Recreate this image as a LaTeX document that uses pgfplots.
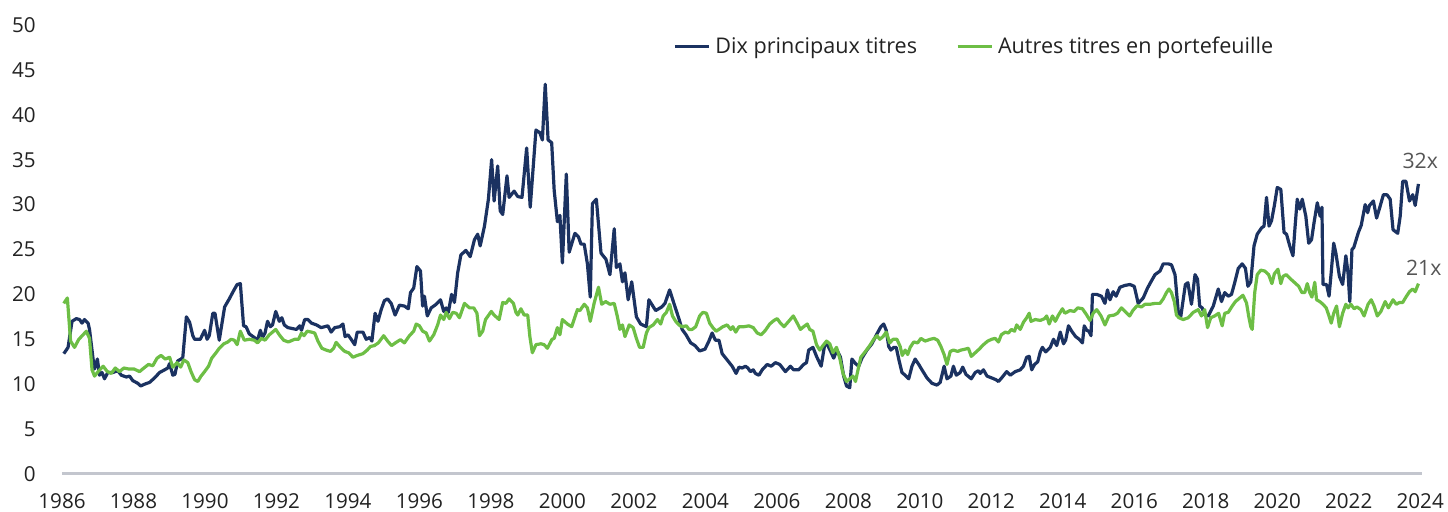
\documentclass[border=0pt]{standalone}
\usepackage{pgfplots}
\pgfplotsset{compat=1.18}
\usepackage{fontspec}
\setmainfont{Open Sans}
\definecolor{navy}{HTML}{1B3261}
\definecolor{lgreen}{HTML}{6DBE45}
\definecolor{axisgray}{HTML}{C3C6CE}
\definecolor{txt}{HTML}{222222}
\definecolor{lbl}{HTML}{555555}
\begin{document}
\begin{tikzpicture}[font=\fontsize{10.3}{12}\selectfont]
\begin{axis}[
  at={(0,0)}, anchor=south west,
  scale only axis, width=680pt, height=224.5pt,
  xmin=1986, xmax=2024.05, ymin=0, ymax=50,
  axis x line*=bottom, axis y line*=left,
  x axis line style={axisgray, line width=1.5pt, -},
  y axis line style={draw=none},
  xtick={1986,1988,...,2024}, ytick={0,5,...,50},
  major tick length=0pt, tick style={draw=none},
  /pgf/number format/1000 sep={},
  /pgf/number format/assume math mode=true,
  xticklabel style={inner sep=0pt, anchor=north, yshift=-9.5pt, text=txt},
  yticklabel style={inner sep=0pt, anchor=east, xshift=-13pt, text=txt},
  clip=false,
  legend style={at={(0.4493,0.951)}, anchor=west, draw=none, fill=none,
    inner sep=0pt, nodes={inner sep=2.5pt, text=txt, font=\fontsize{10.8}{12}\selectfont},
    /tikz/every even column/.append style={column sep=17pt}},
  legend columns=2, legend cell align=left,
  legend image code/.code={\draw[#1, line width=1.5pt] (0pt,0pt) -- (17pt,0pt);},
]
\addplot[navy, line width=1.6pt, line join=round] coordinates {
(1986.05,13.4)(1986.12,13.8)(1986.17,14.1)(1986.28,17.0)(1986.40,17.3)(1986.49,17.2)(1986.56,16.8)(1986.63,17.2)(1986.73,16.8)(1986.77,16.1)
(1986.87,12.8)(1986.91,11.7)(1986.99,12.8)(1987.05,11.0)(1987.12,11.3)(1987.19,10.6)(1987.28,11.3)(1987.42,11.3)(1987.56,11.5)(1987.66,11.0)
(1987.80,10.8)(1987.89,10.9)(1987.98,10.4)(1988.12,10.1)(1988.20,9.8)(1988.31,10.0)(1988.45,10.2)(1988.59,10.7)(1988.73,11.3)(1988.87,11.6)
(1988.96,11.8)(1989.01,12.3)(1989.10,11.0)(1989.16,11.1)(1989.24,12.6)(1989.33,12.8)(1989.38,13.0)(1989.48,17.5)(1989.57,16.9)(1989.66,15.4)
(1989.71,15.0)(1989.80,15.0)(1989.87,15.0)(1989.99,16.0)(1990.06,15.0)(1990.12,15.4)(1990.22,17.9)(1990.28,17.9)(1990.40,14.9)(1990.55,18.6)
(1990.68,19.5)(1990.80,20.4)(1990.90,21.1)(1990.99,21.2)(1991.08,16.5)(1991.15,16.4)(1991.24,15.6)(1991.38,15.2)(1991.47,14.9)(1991.55,16.0)
(1991.61,15.2)(1991.68,15.7)(1991.75,17.0)(1991.83,16.4)(1991.89,16.6)(1991.98,18.1)(1992.08,17.0)(1992.15,17.4)(1992.22,16.6)(1992.32,16.3)
(1992.56,16.1)(1992.65,16.5)(1992.70,16.0)(1992.79,17.2)(1992.88,17.2)(1992.98,16.8)(1993.12,16.6)(1993.25,16.3)(1993.44,16.5)(1993.53,15.8)
(1993.63,16.3)(1993.77,16.4)(1993.86,16.7)(1993.92,15.3)(1994.00,15.5)(1994.09,15.0)(1994.19,14.4)(1994.26,15.8)(1994.42,15.8)(1994.51,15.0)
(1994.61,15.2)(1994.67,14.8)(1994.76,17.9)(1994.84,17.0)(1994.93,18.3)(1995.02,19.3)(1995.11,19.5)(1995.21,19.0)(1995.32,17.7)(1995.44,18.8)
(1995.58,18.7)(1995.69,18.4)(1995.75,20.2)(1995.84,20.7)(1995.93,23.1)(1996.03,22.6)(1996.09,18.7)(1996.14,19.8)(1996.22,17.6)(1996.33,18.5)
(1996.47,18.9)(1996.59,19.4)(1996.68,18.1)(1996.75,18.5)(1996.81,18.0)(1996.90,20.0)(1996.98,19.1)(1997.07,22.4)(1997.16,24.4)(1997.30,24.9)
(1997.42,24.2)(1997.54,26.1)(1997.63,26.7)(1997.70,25.4)(1997.82,27.6)(1997.93,30.6)(1998.02,35.0)(1998.09,30.4)(1998.19,34.3)(1998.26,29.3)
(1998.33,28.9)(1998.45,33.2)(1998.51,30.8)(1998.65,31.5)(1998.75,30.9)(1998.87,30.8)(1999.00,36.3)(1999.10,29.7)(1999.26,38.3)(1999.37,38.0)
(1999.44,37.2)(1999.52,43.4)(1999.60,37.2)(1999.70,36.9)(1999.77,31.6)(1999.86,28.1)(1999.93,28.8)(2000.00,23.5)(2000.11,33.4)(2000.19,24.7)
(2000.35,26.8)(2000.45,26.4)(2000.52,25.6)(2000.61,25.6)(2000.70,23.4)(2000.78,19.7)(2000.84,30.1)(2000.95,30.6)(2001.08,24.6)(2001.22,23.9)
(2001.33,22.2)(2001.45,27.3)(2001.51,23.0)(2001.61,23.4)(2001.68,21.4)(2001.75,22.4)(2001.84,19.4)(2001.94,21.4)(2002.07,17.5)(2002.19,16.7)
(2002.35,16.4)(2002.42,19.4)(2002.61,18.2)(2002.78,18.6)(2002.87,19.0)(2003.00,20.5)(2003.12,19.0)(2003.26,17.3)(2003.35,16.1)(2003.46,15.5)
(2003.59,14.6)(2003.71,14.3)(2003.84,13.7)(2003.99,13.9)(2004.10,14.8)(2004.19,15.7)(2004.28,14.9)(2004.38,14.9)(2004.47,13.4)(2004.61,12.7)
(2004.75,12.0)(2004.86,11.2)(2004.94,11.9)(2005.03,11.8)(2005.12,12.0)(2005.19,11.8)(2005.26,11.4)(2005.34,11.6)(2005.40,11.2)(2005.50,11.0)
(2005.59,11.6)(2005.73,12.2)(2005.84,12.0)(2005.96,12.4)(2006.08,12.2)(2006.24,11.4)(2006.38,12.0)(2006.47,11.6)(2006.61,11.6)(2006.75,12.2)
(2006.83,12.4)(2006.89,13.8)(2007.01,14.1)(2007.11,13.1)(2007.24,12.0)(2007.33,14.2)(2007.39,14.6)(2007.50,13.7)(2007.59,12.9)(2007.68,13.8)
(2007.78,13.0)(2007.87,10.9)(2007.95,9.8)(2008.04,9.6)(2008.10,12.8)(2008.20,12.3)(2008.29,12.0)(2008.38,12.9)(2008.52,13.8)(2008.66,14.5)
(2008.80,15.6)(2008.91,16.4)(2008.99,16.7)(2009.06,16.0)(2009.13,14.2)(2009.19,13.8)(2009.27,14.1)(2009.34,14.1)(2009.41,12.8)(2009.50,11.3)
(2009.59,11.0)(2009.69,10.6)(2009.78,12.0)(2009.87,12.8)(2009.97,12.2)(2010.06,11.6)(2010.20,10.7)(2010.34,10.1)(2010.48,9.9)(2010.57,10.2)
(2010.68,12.0)(2010.76,10.6)(2010.87,10.9)(2010.94,12.0)(2011.02,11.0)(2011.13,11.3)(2011.20,11.9)(2011.29,11.1)(2011.44,10.6)(2011.55,11.3)
(2011.64,11.5)(2011.69,11.2)(2011.78,11.6)(2011.88,10.9)(2012.01,10.7)(2012.13,10.5)(2012.20,10.3)(2012.29,10.7)(2012.43,11.4)(2012.53,11.0)
(2012.67,11.4)(2012.81,11.6)(2012.90,12.0)(2012.99,13.0)(2013.06,13.1)(2013.13,11.6)(2013.21,12.2)(2013.30,12.5)(2013.37,13.6)(2013.43,14.1)
(2013.52,13.6)(2013.65,14.1)(2013.74,15.0)(2013.83,14.3)(2013.93,15.8)(2014.02,14.5)(2014.08,14.9)(2014.16,16.5)(2014.25,15.9)(2014.36,15.3)
(2014.46,15.0)(2014.55,14.6)(2014.60,16.5)(2014.67,16.0)(2014.73,15.9)(2014.79,15.4)(2014.83,20.0)(2014.95,20.0)(2015.08,19.8)(2015.18,19.0)
(2015.25,20.5)(2015.32,19.4)(2015.41,20.3)(2015.49,19.8)(2015.60,20.8)(2015.74,21.0)(2015.88,21.1)(2016.00,20.9)(2016.11,19.0)(2016.25,19.6)
(2016.37,20.7)(2016.48,21.5)(2016.58,22.2)(2016.72,22.6)(2016.81,23.4)(2016.95,23.4)(2017.04,23.3)(2017.14,22.2)(2017.23,18.1)(2017.30,17.5)
(2017.43,21.1)(2017.50,21.3)(2017.60,18.9)(2017.70,22.2)(2017.77,21.7)(2017.83,18.7)(2017.90,18.5)(2017.97,17.7)(2018.07,17.6)(2018.21,18.7)
(2018.35,20.6)(2018.44,19.2)(2018.53,20.2)(2018.63,19.8)(2018.72,20.0)(2018.81,21.3)(2018.91,22.9)(2019.02,23.4)(2019.11,22.9)(2019.18,20.9)
(2019.26,21.4)(2019.35,25.4)(2019.44,26.7)(2019.56,27.4)(2019.63,27.6)(2019.70,30.8)(2019.77,27.6)(2019.84,28.2)(2019.92,29.9)(2020.00,31.9)
(2020.10,31.7)(2020.19,26.9)(2020.26,26.7)(2020.35,25.4)(2020.44,24.3)(2020.50,27.6)(2020.56,30.6)(2020.63,29.5)(2020.70,30.6)(2020.80,28.7)
(2020.88,25.7)(2020.96,26.1)(2021.03,28.0)(2021.12,30.2)(2021.20,28.7)(2021.25,29.7)(2021.28,21.1)(2021.38,21.1)(2021.45,19.8)(2021.50,22.0)
(2021.58,25.7)(2021.64,24.6)(2021.74,22.0)(2021.83,21.1)(2021.92,24.3)(2021.98,22.4)(2022.03,19.2)(2022.09,25.0)(2022.14,25.2)(2022.27,26.9)
(2022.35,27.7)(2022.46,30.0)(2022.53,29.1)(2022.58,29.9)(2022.69,30.4)(2022.78,28.5)(2022.87,29.7)(2022.97,31.1)(2023.07,31.1)(2023.16,30.6)
(2023.24,27.2)(2023.37,26.8)(2023.44,28.7)(2023.51,32.6)(2023.60,32.6)(2023.70,30.4)(2023.79,31.1)(2023.86,29.9)(2023.95,32.3)
};
\addlegendentry{Dix principaux titres}
\addplot[lgreen, line width=1.6pt, line join=round] coordinates {
(1986.05,19.0)(1986.15,19.6)(1986.24,14.8)(1986.35,14.1)(1986.47,15.0)(1986.59,15.5)(1986.68,15.9)(1986.77,15.1)(1986.84,11.6)(1986.91,10.9)
(1987.01,11.4)(1987.15,12.0)(1987.27,11.4)(1987.38,11.2)(1987.49,11.8)(1987.61,11.4)(1987.73,11.8)(1987.86,11.7)(1988.01,11.7)(1988.17,11.4)
(1988.29,11.8)(1988.42,12.2)(1988.54,12.05)(1988.66,12.9)(1988.77,13.2)(1988.89,12.8)(1989.01,13.0)(1989.10,11.9)(1989.22,12.4)(1989.32,11.9)
(1989.41,12.7)(1989.52,12.4)(1989.61,11.4)(1989.71,10.5)(1989.80,10.3)(1989.89,10.9)(1989.99,11.4)(1990.10,12.0)(1990.19,12.9)(1990.31,13.5)
(1990.40,14.0)(1990.53,14.5)(1990.64,14.7)(1990.73,15.0)(1990.82,14.9)(1990.90,14.4)(1990.99,15.9)(1991.10,14.9)(1991.24,15.0)(1991.38,14.9)
(1991.47,14.6)(1991.58,15.1)(1991.68,14.9)(1991.80,15.5)(1991.92,15.9)(1991.98,16.1)(1992.08,15.5)(1992.20,14.9)(1992.33,14.7)(1992.51,15.0)
(1992.62,15.0)(1992.70,15.7)(1992.77,15.4)(1992.86,15.9)(1992.98,15.8)(1993.07,15.7)(1993.16,14.8)(1993.27,14.0)(1993.39,13.8)(1993.51,13.65)
(1993.60,14.0)(1993.67,14.66)(1993.79,14.1)(1993.91,13.65)(1994.02,13.5)(1994.14,13.0)(1994.26,13.2)(1994.42,13.4)(1994.54,13.8)(1994.63,14.2)
(1994.74,14.3)(1994.85,14.6)(1995.00,15.4)(1995.11,14.8)(1995.22,14.3)(1995.35,14.66)(1995.47,14.96)(1995.58,14.6)(1995.72,15.4)(1995.84,15.9)
(1995.91,16.7)(1996.00,16.5)(1996.09,15.9)(1996.19,15.7)(1996.28,14.8)(1996.40,15.5)(1996.51,16.6)(1996.59,17.7)(1996.68,17.2)(1996.75,18.0)
(1996.84,17.3)(1996.93,18.0)(1997.03,17.9)(1997.12,17.4)(1997.26,19.0)(1997.40,18.5)(1997.52,18.5)(1997.61,17.9)(1997.68,15.4)(1997.77,15.9)
(1997.85,17.2)(1998.01,18.1)(1998.09,17.7)(1998.23,17.2)(1998.33,19.1)(1998.42,19.0)(1998.51,19.5)(1998.63,19.0)(1998.70,18.0)(1998.75,17.7)
(1998.84,18.4)(1998.93,17.7)(1999.03,17.7)(1999.09,15.3)(1999.16,13.5)(1999.26,14.4)(1999.40,14.5)(1999.49,14.4)(1999.58,14.0)(1999.71,15.0)
(1999.77,15.1)(1999.86,16.3)(1999.93,15.5)(2000.00,17.2)(2000.14,16.7)(2000.26,16.4)(2000.36,17.6)(2000.42,18.3)(2000.49,18.2)(2000.61,18.9)
(2000.70,18.5)(2000.78,17.0)(2000.89,19.05)(2001.01,20.8)(2001.10,18.9)(2001.21,19.2)(2001.33,18.9)(2001.45,19.0)(2001.54,17.5)(2001.61,16.1)
(2001.68,16.6)(2001.75,15.3)(2001.87,16.6)(2001.98,16.3)(2002.07,15.1)(2002.16,14.1)(2002.26,14.1)(2002.35,15.7)(2002.42,16.3)(2002.54,16.6)
(2002.66,17.2)(2002.75,16.7)(2002.82,17.6)(2002.91,18.0)(2003.00,18.9)(2003.08,17.6)(2003.17,17.0)(2003.26,16.6)(2003.35,16.4)(2003.47,16.5)
(2003.54,16.1)(2003.63,16.1)(2003.73,16.4)(2003.84,17.6)(2003.93,18.0)(2004.03,17.9)(2004.12,16.8)(2004.21,16.3)(2004.30,15.9)(2004.38,16.1)
(2004.49,16.4)(2004.61,16.6)(2004.71,16.1)(2004.77,16.4)(2004.85,15.8)(2004.94,16.4)(2005.08,16.4)(2005.22,16.5)(2005.34,16.3)(2005.45,15.7)
(2005.56,15.5)(2005.68,16.0)(2005.80,16.7)(2005.92,17.1)(2006.01,17.3)(2006.10,16.8)(2006.20,16.4)(2006.31,16.9)(2006.46,17.6)(2006.57,16.8)
(2006.66,16.1)(2006.75,16.4)(2006.85,16.7)(2006.92,16.1)(2007.01,15.9)(2007.11,14.4)(2007.20,13.8)(2007.29,14.3)(2007.39,14.8)(2007.48,14.5)
(2007.57,13.5)(2007.67,14.1)(2007.76,12.9)(2007.85,11.2)(2007.95,10.3)(2008.04,10.6)(2008.13,10.9)(2008.20,10.3)(2008.26,11.4)(2008.35,13.0)
(2008.48,13.65)(2008.60,14.3)(2008.71,15.0)(2008.80,15.4)(2008.88,15.0)(2008.97,15.3)(2009.06,15.8)(2009.16,14.6)(2009.25,15.0)(2009.36,15.0)
(2009.45,14.2)(2009.51,13.2)(2009.59,13.8)(2009.66,13.3)(2009.73,14.1)(2009.83,14.7)(2009.94,14.6)(2010.03,15.1)(2010.15,14.8)(2010.29,15.0)
(2010.40,15.1)(2010.50,14.9)(2010.59,14.2)(2010.68,13.3)(2010.76,12.2)(2010.85,13.65)(2010.94,13.8)(2011.06,13.65)(2011.15,13.8)(2011.27,13.9)
(2011.36,14.0)(2011.44,13.1)(2011.55,13.5)(2011.66,13.9)(2011.78,14.4)(2011.90,14.8)(2012.01,15.0)(2012.11,15.1)(2012.20,14.7)(2012.28,15.5)
(2012.39,15.8)(2012.48,15.7)(2012.56,16.1)(2012.65,15.9)(2012.71,16.6)(2012.81,16.1)(2012.90,16.9)(2012.99,17.4)(2013.06,17.9)(2013.11,17.0)
(2013.23,17.2)(2013.37,17.1)(2013.49,17.3)(2013.55,17.6)(2013.62,16.7)(2013.71,17.6)(2013.79,17.0)(2013.88,17.7)(2013.99,18.4)(2014.06,17.9)
(2014.20,18.2)(2014.32,18.1)(2014.42,18.5)(2014.55,18.4)(2014.67,17.7)(2014.76,17.1)(2014.85,17.9)(2014.95,18.3)(2015.07,17.6)(2015.18,16.6)
(2015.29,17.6)(2015.44,17.7)(2015.53,17.9)(2015.64,18.5)(2015.74,18.1)(2015.87,17.6)(2015.96,18.2)(2016.08,18.75)(2016.20,18.6)(2016.30,18.9)
(2016.44,18.9)(2016.58,19.0)(2016.72,19.0)(2016.81,19.5)(2016.90,20.2)(2016.97,20.6)(2017.04,20.2)(2017.12,19.2)(2017.18,17.7)(2017.25,17.4)
(2017.37,17.2)(2017.51,17.4)(2017.65,18.0)(2017.79,18.3)(2017.88,17.6)(2017.97,18.3)(2018.05,16.3)(2018.14,17.4)(2018.25,17.6)(2018.36,17.9)
(2018.46,16.5)(2018.53,17.9)(2018.63,18.0)(2018.74,18.7)(2018.83,19.2)(2018.95,19.6)(2019.04,19.9)(2019.14,19.05)(2019.20,17.6)(2019.26,16.4)
(2019.30,16.1)(2019.37,20.2)(2019.44,22.2)(2019.54,22.7)(2019.65,22.6)(2019.76,22.2)(2019.85,21.2)(2019.92,22.3)(2020.02,22.8)(2020.10,21.2)
(2020.16,22.0)(2020.25,22.2)(2020.35,21.8)(2020.49,21.3)(2020.60,20.9)(2020.69,20.2)(2020.77,20.2)(2020.84,21.2)(2020.91,20.2)(2020.97,19.7)
(2021.05,21.35)(2021.10,19.4)(2021.19,19.2)(2021.28,18.9)(2021.37,18.5)(2021.44,17.7)(2021.51,16.8)(2021.58,17.9)(2021.66,18.7)(2021.74,16.4)
(2021.83,17.9)(2021.92,18.9)(2021.98,18.5)(2022.06,18.9)(2022.15,18.4)(2022.23,18.6)(2022.34,18.3)(2022.43,17.6)(2022.54,18.9)(2022.63,19.4)
(2022.71,18.7)(2022.80,17.6)(2022.90,18.1)(2023.02,19.2)(2023.11,18.5)(2023.24,19.4)(2023.33,18.9)(2023.42,19.1)(2023.51,19.1)(2023.60,19.7)
(2023.70,20.3)(2023.79,20.6)(2023.86,20.3)(2023.95,21.2)
};
\addlegendentry{Autres titres en portefeuille}
\node[text=lbl, inner sep=0pt, font=\fontsize{10.6}{12}\selectfont] at (axis cs:2024.0,34.9) {32x};
\node[text=lbl, inner sep=0pt, font=\fontsize{10.6}{12}\selectfont] at (axis cs:2024.1,23.0) {21x};
\end{axis}
\pgfresetboundingbox
\path (-31pt,-19pt) rectangle (693pt,237pt);
\end{tikzpicture}
\end{document}
